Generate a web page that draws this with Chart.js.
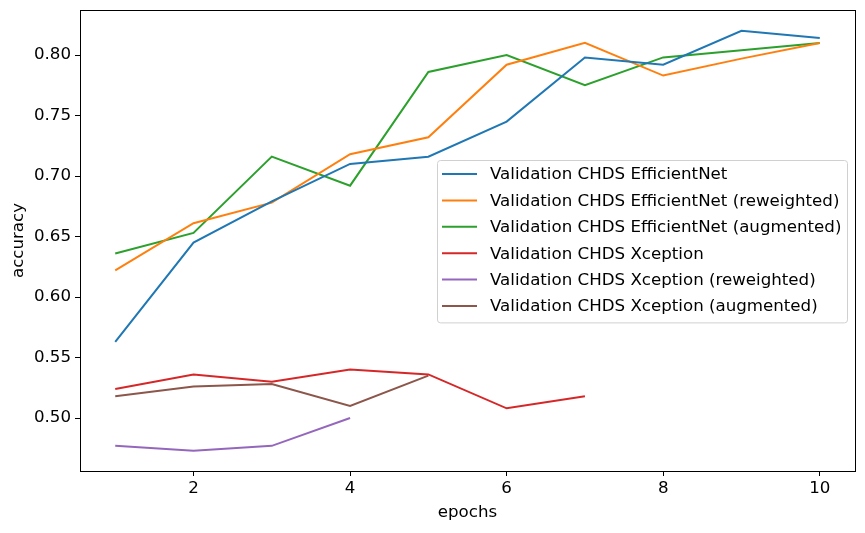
<!DOCTYPE html>
<html>
<head>
<meta charset="utf-8">
<script src="https://cdn.jsdelivr.net/npm/chart.js@4/dist/chart.umd.min.js"></script>
<style>
    html, body { margin: 0; padding: 0; background: #fff; }
    #wrap { width: 865px; height: 533px; position: relative; }
</style>
</head>
<body>
<div id="wrap"><canvas id="accuracyChart"></canvas></div>
<script>
// Validation accuracy per epoch
const epochs = [1, 2, 3, 4, 5, 6, 7, 8, 9, 10];

const effNet = [0.563, 0.645, 0.679, 0.710, 0.716, 0.745, 0.798, 0.792, 0.820, 0.814];
const effNetReweighted = [0.622, 0.661, 0.678, 0.718, 0.732, 0.792, 0.810, 0.783, 0.797, 0.810];
const effNetAugmented = [0.636, 0.653, 0.716, 0.692, 0.786, 0.800, 0.775, 0.798, 0.804, 0.810];
const xception = [0.524, 0.536, 0.530, 0.540, 0.536, 0.508, 0.518];
const xceptionReweighted = [0.477, 0.473, 0.477, 0.500];
const xceptionAugmented = [0.518, 0.526, 0.528, 0.510, 0.535];

const seriesLabels = [
    'Validation CHDS EfficientNet',
    'Validation CHDS EfficientNet (reweighted)',
    'Validation CHDS EfficientNet (augmented)',
    'Validation CHDS Xception',
    'Validation CHDS Xception (reweighted)',
    'Validation CHDS Xception (augmented)'
];
const seriesColors = ['#1f77b4', '#ff7f0e', '#2ca02c', '#d62728', '#9467bd', '#8c564b'];

const xTicks = [2, 4, 6, 8, 10];
const yTicks = [0.50, 0.55, 0.60, 0.65, 0.70, 0.75, 0.80];

const FONT = "'DejaVu Sans', sans-serif";
const FONT_SIZE = 16.67;

function toPoints(values) {
    return values.map((v, i) => ({ x: epochs[i], y: v }));
}

const allSeries = [effNet, effNetReweighted, effNetAugmented, xception, xceptionReweighted, xceptionAugmented];

const datasets = allSeries.map((values, i) => ({
    label: seriesLabels[i],
    data: toPoints(values),
    borderColor: seriesColors[i],
    backgroundColor: seriesColors[i],
    borderWidth: 2,
    pointRadius: 0,
    tension: 0,
    fill: false
}));

// Full frame around the plot area (matplotlib style)
const frameBox = {
    id: 'frameBox',
    afterDatasetsDraw(chart) {
        const { ctx, chartArea: a } = chart;
        ctx.save();
        ctx.strokeStyle = '#000';
        ctx.lineWidth = 1;
        ctx.strokeRect(Math.round(a.left) + 0.5, Math.round(a.top) + 0.5,
            Math.round(a.right - a.left), Math.round(a.bottom - a.top));
        ctx.restore();
    }
};

// Legend box drawn inside the plot, right side
const innerLegend = {
    id: 'innerLegend',
    afterDraw(chart) {
        const { ctx } = chart;
        const left = 437, top = 160, width = 410, rowH = 26.4;
        const height = rowH * chart.data.datasets.length + 4;
        ctx.save();
        ctx.fillStyle = 'rgba(255,255,255,0.8)';
        ctx.strokeStyle = '#d0d0d0';
        ctx.lineWidth = 1;
        ctx.beginPath();
        ctx.roundRect(left + 0.5, top + 0.5, width, height, 3);
        ctx.fill();
        ctx.stroke();
        ctx.font = FONT_SIZE + 'px ' + FONT;
        ctx.textBaseline = 'middle';
        chart.data.datasets.forEach((ds, i) => {
            const y = top + 14 + i * rowH;
            ctx.strokeStyle = ds.borderColor;
            ctx.lineWidth = 2;
            ctx.beginPath();
            ctx.moveTo(442, y);
            ctx.lineTo(477, y);
            ctx.stroke();
            ctx.fillStyle = '#000';
            ctx.fillText(ds.label, 490, y + 1);
        });
        ctx.restore();
    }
};

new Chart(document.getElementById('accuracyChart'), {
    type: 'line',
    data: { datasets },
    options: {
        responsive: true,
        maintainAspectRatio: false,
        animation: false,
        layout: { padding: { top: 10, right: 10, left: 0, bottom: 0 } },
        plugins: {
            legend: { display: false },
            tooltip: { enabled: false }
        },
        scales: {
            x: {
                type: 'linear',
                min: 0.55,
                max: 10.45,
                afterBuildTicks: scale => { scale.ticks = xTicks.map(v => ({ value: v })); },
                afterFit: scale => {
                    scale.height = 62;
                    scale.paddingLeft = 0;
                    scale.paddingRight = 0;
                },
                grid: { drawOnChartArea: false, drawTicks: true, tickLength: 5, color: '#000' },
                border: { display: true, color: '#000' },
                ticks: { color: '#000', font: { family: FONT, size: FONT_SIZE }, padding: 3, maxRotation: 0 },
                title: { display: true, text: 'epochs', color: '#000', font: { family: FONT, size: FONT_SIZE }, padding: { top: 0, bottom: 10 } }
            },
            y: {
                type: 'linear',
                min: 0.4562,
                max: 0.8372,
                afterBuildTicks: scale => { scale.ticks = yTicks.map(v => ({ value: v })); },
                afterFit: scale => {
                    scale.width = 80;
                    scale.paddingTop = 0;
                    scale.paddingBottom = 0;
                },
                grid: { drawOnChartArea: false, drawTicks: true, tickLength: 5, color: '#000' },
                border: { display: true, color: '#000' },
                ticks: {
                    color: '#000',
                    font: { family: FONT, size: FONT_SIZE },
                    padding: 4,
                    callback: v => v.toFixed(2)
                },
                title: { display: true, text: 'accuracy', color: '#000', font: { family: FONT, size: FONT_SIZE }, padding: { top: 9, bottom: 0 } }
            }
        }
    },
    plugins: [frameBox, innerLegend]
});
</script>
</body>
</html>
